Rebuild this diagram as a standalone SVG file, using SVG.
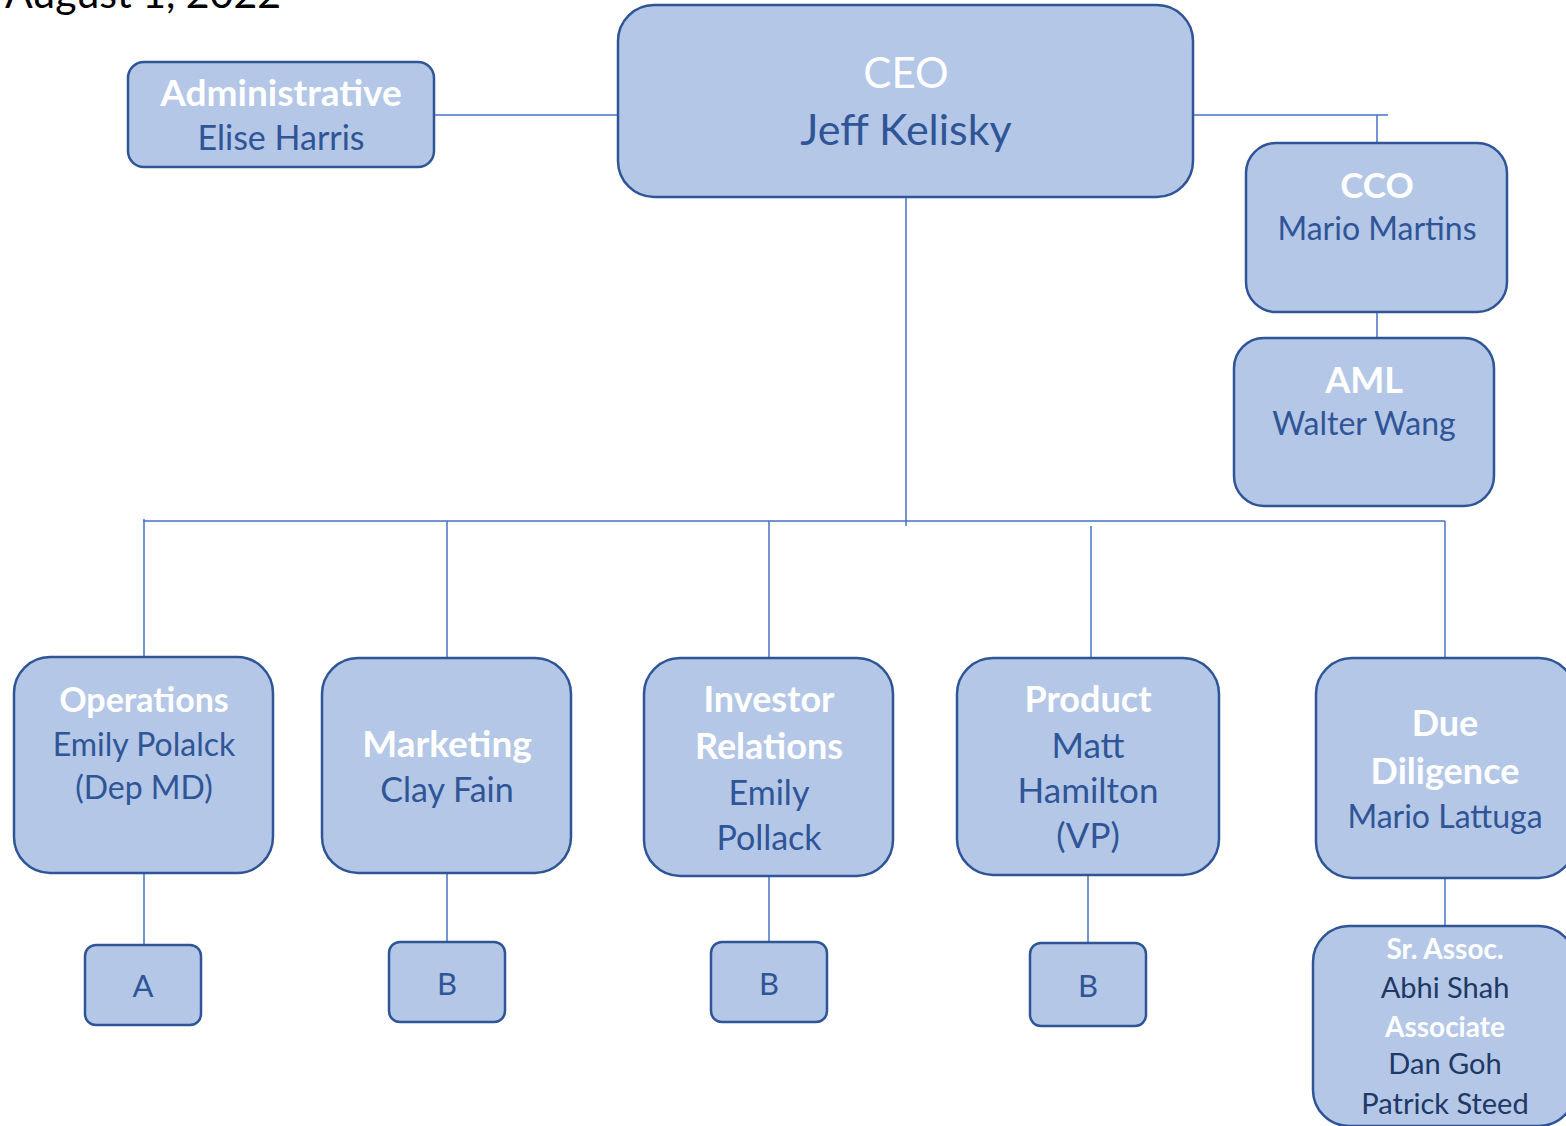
<svg xmlns="http://www.w3.org/2000/svg" width="1566" height="1126" viewBox="0 0 1566 1126">
<style>
.box{fill:#b4c7e7;stroke:#2f5597;stroke-width:2.5}
.t{font-family:Lato,"Open Sans",sans-serif;text-anchor:middle}
.h{fill:#ffffff;font-weight:bold}
.n{fill:#2f5597}
.d{fill:#203864}
.c line{stroke:#4472c4;stroke-width:1.5}
</style>
<rect width="1566" height="1126" fill="#ffffff"/>
<text x="281" y="8" font-family="Lato,'Open Sans',sans-serif" font-size="41" text-anchor="end" fill="#000000">August 1, 2022</text>
<g class="c" id="connectors">
<line x1="434" y1="115" x2="618" y2="115"/>
<line x1="1193" y1="115" x2="1388" y2="115"/>
<line x1="1377" y1="115" x2="1377" y2="143"/>
<line x1="1377" y1="312" x2="1377" y2="338"/>
<line x1="906" y1="197" x2="906" y2="526"/>
<line x1="143" y1="521" x2="1445" y2="521"/>
<line x1="144" y1="519" x2="144" y2="657"/>
<line x1="447" y1="521" x2="447" y2="658"/>
<line x1="769" y1="521" x2="769" y2="658"/>
<line x1="1091" y1="526" x2="1091" y2="658"/>
<line x1="1445" y1="521" x2="1445" y2="658"/>
<line x1="144" y1="873" x2="144" y2="945"/>
<line x1="447" y1="873" x2="447" y2="942"/>
<line x1="769" y1="876" x2="769" y2="942"/>
<line x1="1088" y1="875" x2="1088" y2="943"/>
<line x1="1445" y1="878" x2="1445" y2="927"/>
</g>
<g id="admin">
<rect class="box" x="128" y="62" width="306" height="105" rx="16"/>
<text class="t h" x="281" y="106" font-size="37">Administrative</text>
<text class="t n" x="281" y="150" font-size="34">Elise Harris</text>
</g>
<g id="ceo">
<rect class="box" x="618" y="5" width="575" height="192" rx="36"/>
<text class="t" x="906" y="88" font-size="42" fill="#ffffff">CEO</text>
<text class="t n" x="906" y="145" font-size="43">Jeff Kelisky</text>
</g>
<g id="cco">
<rect class="box" x="1246" y="143" width="261" height="169" rx="30"/>
<text class="t h" x="1377" y="198" font-size="35">CCO</text>
<text class="t n" x="1377" y="240" font-size="32">Mario Martins</text>
</g>
<g id="aml">
<rect class="box" x="1234" y="338" width="260" height="168" rx="30"/>
<text class="t h" x="1364" y="393" font-size="36">AML</text>
<text class="t n" x="1364" y="435" font-size="32">Walter Wang</text>
</g>
<g id="operations">
<rect class="box" x="14" y="657" width="259" height="216" rx="36"/>
<text class="t h" x="144" y="712" font-size="34">Operations</text>
<text class="t n" x="144" y="756" font-size="32">Emily Polalck</text>
<text class="t n" x="144" y="799" font-size="32">(Dep MD)</text>
</g>
<g id="marketing">
<rect class="box" x="322" y="658" width="249" height="215" rx="36"/>
<text class="t h" x="447" y="757" font-size="37">Marketing</text>
<text class="t n" x="447" y="802" font-size="34">Clay Fain</text>
</g>
<g id="investor">
<rect class="box" x="644" y="658" width="249" height="218" rx="36"/>
<text class="t h" x="769" y="712" font-size="36">Investor</text>
<text class="t h" x="769" y="759" font-size="36">Relations</text>
<text class="t n" x="769" y="805" font-size="34">Emily</text>
<text class="t n" x="769" y="850" font-size="34">Pollack</text>
</g>
<g id="product">
<rect class="box" x="957" y="658" width="262" height="217" rx="36"/>
<text class="t h" x="1088" y="712" font-size="36">Product</text>
<text class="t n" x="1088" y="758" font-size="35">Matt</text>
<text class="t n" x="1088" y="803" font-size="35">Hamilton</text>
<text class="t n" x="1088" y="848" font-size="35">(VP)</text>
</g>
<g id="duediligence">
<rect class="box" x="1316" y="658" width="259" height="220" rx="36"/>
<text class="t h" x="1445" y="736" font-size="36">Due</text>
<text class="t h" x="1445" y="784" font-size="36">Diligence</text>
<text class="t n" x="1445" y="828" font-size="32">Mario Lattuga</text>
</g>
<g id="a1">
<rect class="box" x="85" y="945" width="116" height="80" rx="11"/>
<text class="t n" x="143" y="997" font-size="31">A</text>
</g>
<g id="b1">
<rect class="box" x="389" y="942" width="116" height="80" rx="11"/>
<text class="t n" x="447" y="995" font-size="31">B</text>
</g>
<g id="b2">
<rect class="box" x="711" y="942" width="116" height="80" rx="11"/>
<text class="t n" x="769" y="995" font-size="31">B</text>
</g>
<g id="b3">
<rect class="box" x="1030" y="943" width="116" height="83" rx="11"/>
<text class="t n" x="1088" y="997" font-size="31">B</text>
</g>
<g id="team">
<rect class="box" x="1313" y="926" width="262" height="200" rx="36"/>
<text class="t h" x="1445" y="959" font-size="28">Sr. Assoc.</text>
<text class="t d" x="1445" y="998" font-size="29">Abhi Shah</text>
<text class="t h" x="1445" y="1037" font-size="28">Associate</text>
<text class="t d" x="1445" y="1074" font-size="29">Dan Goh</text>
<text class="t d" x="1445" y="1114" font-size="29">Patrick Steed</text>
</g>
</svg>
